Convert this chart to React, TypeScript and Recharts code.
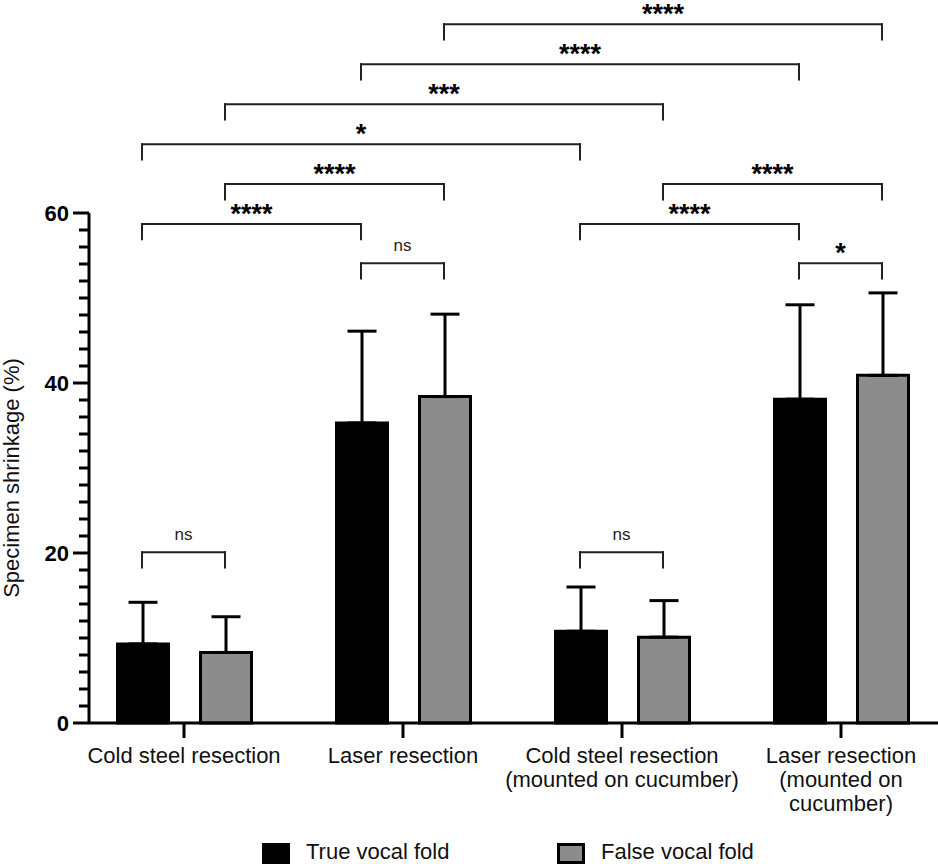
import { Bar, BarChart, ErrorBar, ReferenceLine, XAxis, YAxis } from "recharts"

const categories = [
  "Cold steel resection",
  "Laser resection",
  "Cold steel resection (mounted on cucumber)",
  "Laser resection (mounted on cucumber)",
]
const categoryLines = [
  ["Cold steel resection"],
  ["Laser resection"],
  ["Cold steel resection", "(mounted on cucumber)"],
  ["Laser resection", "(mounted on", "cucumber)"],
]

const trueVocalFold = [9.3, 35.3, 10.8, 38.1]
const trueVocalFoldSd = [4.9, 10.8, 5.2, 11.1]
const falseVocalFold = [8.3, 38.4, 10.1, 40.9]
const falseVocalFoldSd = [4.2, 9.7, 4.3, 9.7]

const yTicks = [0, 2, 4, 6, 8, 10, 12, 14, 16, 18, 20, 22, 24, 26, 28, 30, 32, 34, 36, 38, 40, 42, 44, 46, 48, 50, 52, 54, 56, 58, 60]
const yLabelTicks = [0, 20, 40, 60]

// significance brackets: [group, bar] -> [group, bar]
const bracketFrom = [[0, 0], [1, 0], [2, 0], [3, 0], [0, 0], [2, 0], [0, 1], [2, 1], [0, 0], [0, 1], [1, 0], [1, 1]]
const bracketTo = [[0, 1], [1, 1], [2, 1], [3, 1], [1, 0], [3, 0], [1, 1], [3, 1], [2, 0], [2, 1], [3, 0], [3, 1]]
const bracketLevel = [20.1, 54.1, 20.1, 54.1, 58.7, 58.7, 63.4, 63.4, 68.1, 72.8, 77.5, 82.2]
const bracketText = ["ns", "ns", "ns", "*", "****", "****", "****", "****", "*", "***", "****", "****"]

const WIDTH = 938
const HEIGHT = 864
const Y_AXIS_WIDTH = 89
const PLOT_TOP = 213
const PLOT_BOTTOM = 723
const PAD_LEFT = -14.5
const PAD_RIGHT = -12.5
const BAR_SIZE = 51
const BAR_GAP = 32
const BRACKET_DROP = 1.8
const FONT = "'Liberation Sans', Arial, Helvetica, sans-serif"

const BAND = (WIDTH - Y_AXIS_WIDTH - PAD_LEFT - PAD_RIGHT) / categories.length
const GROUP_OFFSET = Math.floor((BAND - (2 * BAR_SIZE + BAR_GAP)) / 2)

// position along the hidden numeric axis (one unit per category band)
function barCenter(group: number, bar: number) {
  return group + (GROUP_OFFSET + bar * (BAR_SIZE + BAR_GAP) + BAR_SIZE / 2) / BAND
}

const data = categories.map((name, i) => ({
  name,
  slot: i + 0.5,
  trueVocalFold: trueVocalFold[i],
  trueSd: [0, trueVocalFoldSd[i]],
  falseVocalFold: falseVocalFold[i],
  falseSd: [0, falseVocalFoldSd[i]],
}))

function XTick(props: any) {
  const { x, y, payload } = props
  const lines = categoryLines[categories.indexOf(payload.value)] ?? [payload.value]
  return (
    <g>
      <line x1={x} y1={y} x2={x} y2={y + 15} stroke="#000" strokeWidth={3} />
      {lines.map((line, i) => (
        <text
          key={line}
          x={x}
          y={y + 40 + i * 24}
          textAnchor="middle"
          fontSize={22}
          fontFamily={FONT}
          fill="#111"
        >
          {line}
        </text>
      ))}
    </g>
  )
}

function YTick(props: any) {
  const { x, y, payload } = props
  const major = yLabelTicks.includes(payload.value)
  return (
    <g>
      <line x1={x - (major ? 16 : 10)} y1={y} x2={x} y2={y} stroke="#000" strokeWidth={3} />
      {major && (
        <text
          x={x - 20}
          y={y + 8}
          textAnchor="end"
          fontSize={22}
          fontWeight="bold"
          fontFamily={FONT}
          fill="#000"
        >
          {payload.value}
        </text>
      )}
    </g>
  )
}

function YTitle(props: any) {
  const { viewBox } = props
  const cx = viewBox.x + 19
  const cy = viewBox.y + viewBox.height / 2 + 10
  return (
    <text
      x={cx}
      y={cy}
      transform={`rotate(-90 ${cx} ${cy})`}
      textAnchor="middle"
      fontSize={22}
      fontFamily={FONT}
      fill="#111"
    >
      Specimen shrinkage (%)
    </text>
  )
}

function LegendItem({ color, label, left }: { color: string; label: string; left: number }) {
  return (
    <div style={{ position: "absolute", left, top: 843, display: "flex", alignItems: "flex-start" }}>
      <div
        style={{
          width: 28,
          height: 21,
          boxSizing: "border-box",
          background: color,
          border: "3px solid #000",
        }}
      />
      <span style={{ marginLeft: 16, marginTop: -3, fontSize: 22, fontFamily: FONT, color: "#111", lineHeight: "24px" }}>
        {label}
      </span>
    </div>
  )
}

export default function App() {
  const bracketLines = bracketLevel.flatMap((level, i) => {
    const x1 = barCenter(bracketFrom[i][0], bracketFrom[i][1])
    const x2 = barCenter(bracketTo[i][0], bracketTo[i][1])
    const isNs = bracketText[i] === "ns"
    const common = {
      xAxisId: "pos",
      ifOverflow: "visible" as const,
      stroke: "#222",
      strokeWidth: 2,
      strokeLinecap: "square" as const,
    }
    return [
      <ReferenceLine key={`l${i}`} {...common} segment={[{ x: x1, y: level }, { x: x1, y: level - BRACKET_DROP }]} />,
      <ReferenceLine key={`r${i}`} {...common} segment={[{ x: x2, y: level }, { x: x2, y: level - BRACKET_DROP }]} />,
      <ReferenceLine
        key={`t${i}`}
        {...common}
        segment={[{ x: x1, y: level }, { x: x2, y: level }]}
        label={{
          value: bracketText[i],
          position: "top",
          offset: isNs ? 12 : 1,
          fontSize: isNs ? 17 : 27,
          fontWeight: isNs ? "normal" : "bold",
          fontFamily: FONT,
          fill: isNs ? "#222" : "#000",
        }}
      />,
    ]
  })

  return (
    <div style={{ position: "absolute", left: 0, top: 0, width: WIDTH, height: HEIGHT, overflow: "hidden", background: "#fff" }}>
      <BarChart
        width={WIDTH}
        height={HEIGHT}
        data={data}
        margin={{ top: PLOT_TOP, right: 0, bottom: 0, left: 0 }}
        barSize={BAR_SIZE}
        barGap={BAR_GAP}
      >
        <XAxis
          dataKey="name"
          interval={0}
          height={HEIGHT - PLOT_BOTTOM}
          padding={{ left: PAD_LEFT, right: PAD_RIGHT }}
          axisLine={{ stroke: "#000", strokeWidth: 3 }}
          tickLine={false}
          tickSize={0}
          tickMargin={0}
          tick={<XTick />}
        />
        <XAxis
          xAxisId="pos"
          dataKey="slot"
          type="number"
          domain={[0, categories.length]}
          allowDataOverflow
          padding={{ left: PAD_LEFT, right: PAD_RIGHT }}
          hide
        />
        <YAxis
          width={Y_AXIS_WIDTH}
          domain={[0, 60]}
          ticks={yTicks}
          interval={0}
          axisLine={{ stroke: "#000", strokeWidth: 3 }}
          tickLine={false}
          tickSize={0}
          tickMargin={0}
          tick={<YTick />}
          label={(props: any) => <YTitle {...props} />}
        />
        <Bar dataKey="trueVocalFold" fill="#000" stroke="#000" strokeWidth={3} isAnimationActive={false}>
          <ErrorBar dataKey="trueSd" direction="y" width={14.5} stroke="#000" strokeWidth={3} />
        </Bar>
        <Bar dataKey="falseVocalFold" fill="#8c8c8c" stroke="#000" strokeWidth={3} isAnimationActive={false}>
          <ErrorBar dataKey="falseSd" direction="y" width={14.5} stroke="#000" strokeWidth={3} />
        </Bar>
        {bracketLines}
      </BarChart>
      <LegendItem color="#000" label="True vocal fold" left={262} />
      <LegendItem color="#8c8c8c" label="False vocal fold" left={557} />
    </div>
  )
}
